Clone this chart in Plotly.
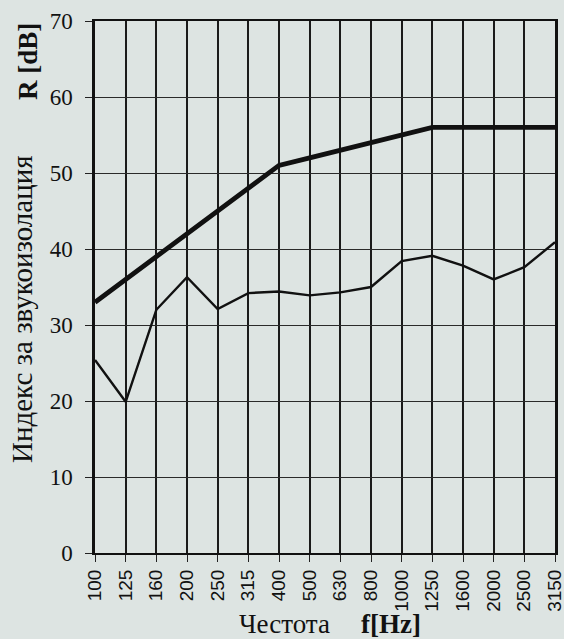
import plotly.graph_objects as go

freqs = ["100", "125", "160", "200", "250", "315", "400", "500", "630", "800",
         "1000", "1250", "1600", "2000", "2500", "3150"]
reference = [33, 36, 39, 42, 45, 48, 51, 52, 53, 54, 55, 56, 56, 56, 56, 56]
measured = [25.4, 19.9, 32.0, 36.3, 32.1, 34.2, 34.4, 33.9, 34.3, 35.0,
            38.4, 39.1, 37.8, 36.0, 37.6, 40.9]
y_ticks = [0, 10, 20, 30, 40, 50, 60, 70]

bg = "#dde4e2"
serif = "Liberation Serif, Times New Roman, serif"
fig = go.Figure()
fig.add_trace(go.Scatter(x=freqs, y=measured, mode="lines",
                         line=dict(color="#111111", width=2.4), showlegend=False))
fig.add_trace(go.Scatter(x=freqs, y=reference, mode="lines",
                         line=dict(color="#111111", width=4.8), showlegend=False))

L, R, T, B = 95, 9, 21, 86
W, H = 564, 639
pw = W - L - R
ph = H - T - B

fig.update_layout(
    width=W, height=H,
    margin=dict(l=L, r=R, t=T, b=B),
    paper_bgcolor=bg, plot_bgcolor=bg,
    xaxis=dict(type="category", range=[0, 15], showgrid=True,
               gridcolor="#1a1a1a", gridwidth=1.6,
               tickangle=-90, ticks="outside", ticklen=7, tickcolor="#222",
               tickfont=dict(family="Liberation Sans, Arial, sans-serif",
                             size=19, color="#111"),
               showline=True, linecolor="#111", linewidth=2, mirror=True,
               zeroline=False, automargin=False),
    yaxis=dict(range=[0, 70], tickvals=y_ticks, showgrid=True,
               gridcolor="#2a2a2a", gridwidth=1.2,
               ticks="outside", ticklen=7, tickcolor="#222",
               ticklabelstandoff=8,
               tickfont=dict(family=serif, size=23, color="#111"),
               showline=True, linecolor="#111", linewidth=2.5, mirror=True,
               zeroline=False, automargin=False),
    annotations=[
        dict(text="Индекс за звукоизолация", xref="paper", yref="paper",
             x=(22 - L) / pw, y=1 - (309 - T) / ph, textangle=-90,
             showarrow=False, xanchor="center", yanchor="middle",
             font=dict(family=serif, size=29, color="#111")),
        dict(text="<b>R [dB]</b>", xref="paper", yref="paper",
             x=(28 - L) / pw, y=1 - (62 - T) / ph, textangle=-90,
             showarrow=False, xanchor="center", yanchor="middle",
             font=dict(family=serif, size=27, color="#111")),
        dict(text="Честота", xref="paper", yref="paper",
             x=(284 - L) / pw, y=-(624 - (H - B)) / ph,
             showarrow=False, xanchor="center", yanchor="middle",
             font=dict(family=serif, size=27, color="#111")),
        dict(text="<b>f[Hz]</b>", xref="paper", yref="paper",
             x=(391 - L) / pw, y=-(624 - (H - B)) / ph,
             showarrow=False, xanchor="center", yanchor="middle",
             font=dict(family=serif, size=27, color="#111")),
    ],
)

fig.write_html("out.html", config={"displayModeBar": False},
               post_script="document.body.style.margin='0';"
                           "document.body.style.background='" + bg + "';")
